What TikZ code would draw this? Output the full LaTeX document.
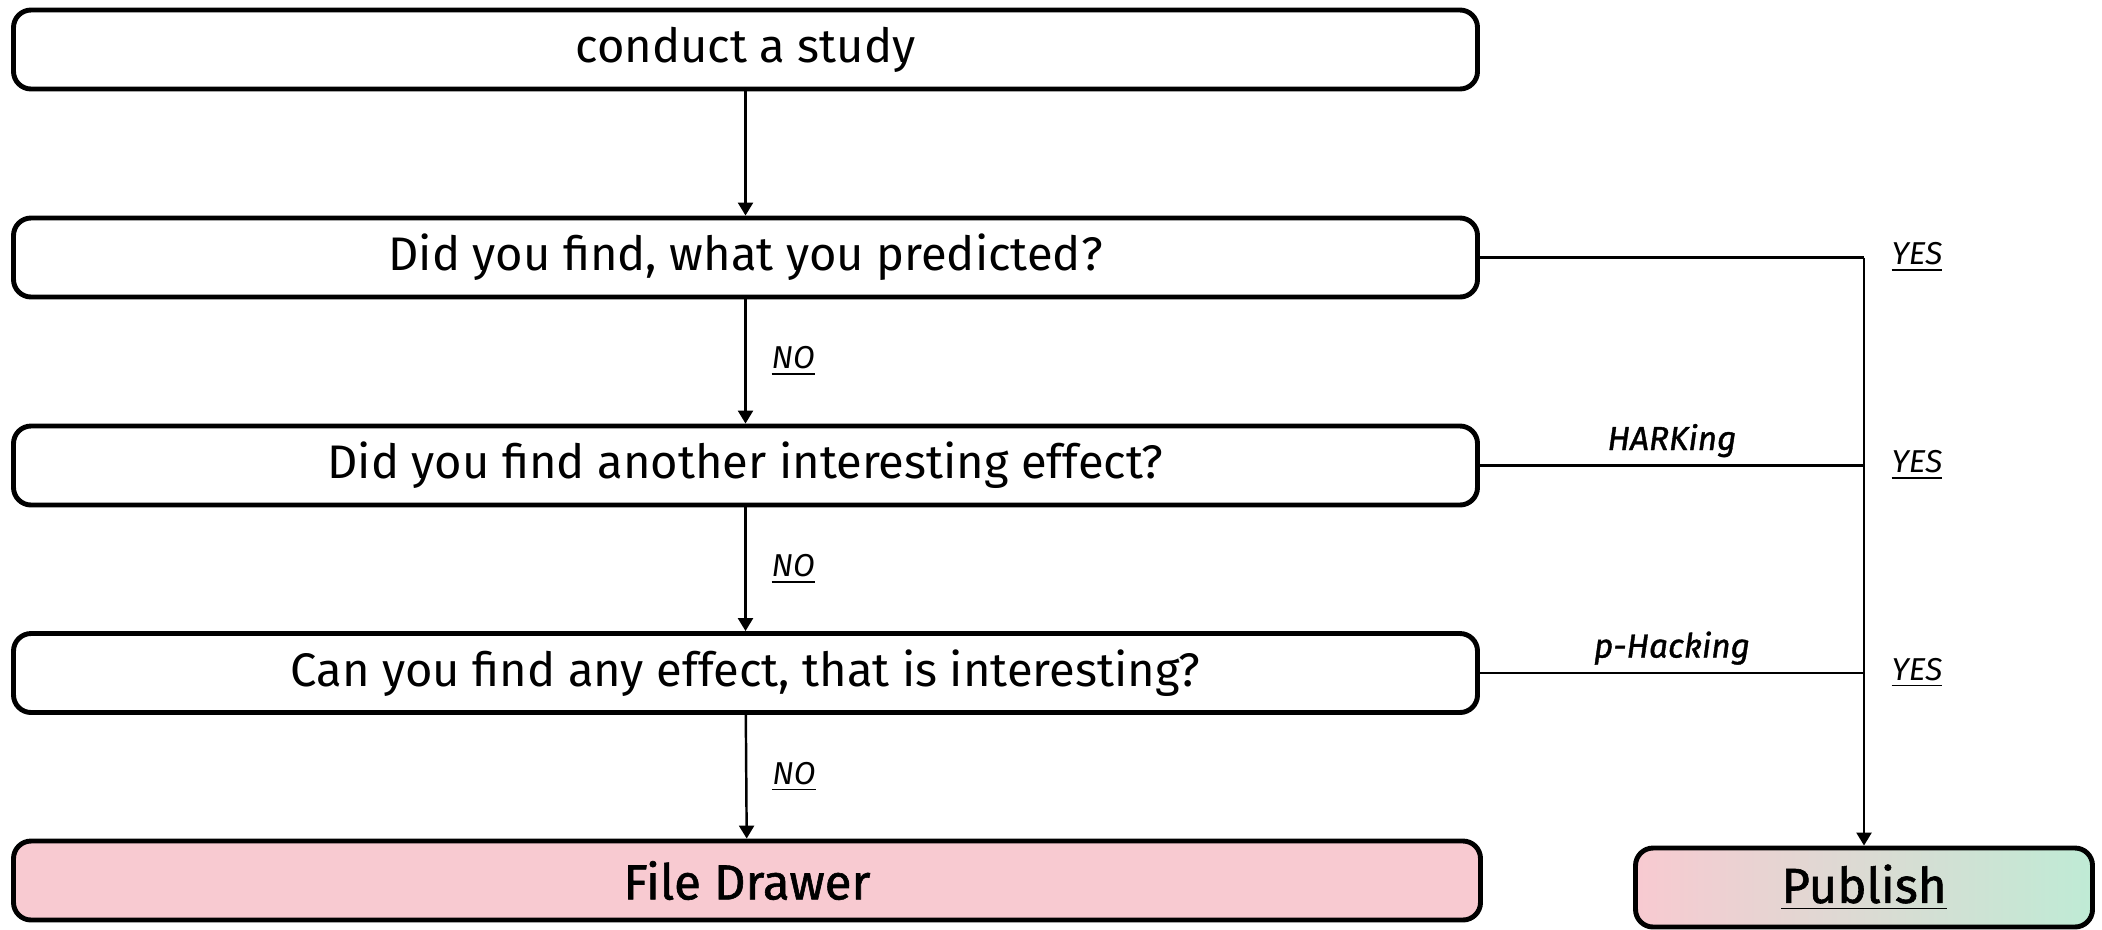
\documentclass[tikz,border=0pt]{standalone}
\usepackage{fontspec}
\setmainfont{Fira Sans}
\newfontfamily\medfont[FakeBold=1.2]{Fira Sans}
\usetikzlibrary{arrows.meta,positioning,calc}
\definecolor{drawerpink}{HTML}{F8CAD1}
\definecolor{publishgreen}{HTML}{BFEBD5}
\tikzset{
  qblk/.style={draw,rectangle,rounded corners=5pt,line width=1.4pt,minimum width=14.64cm,minimum height=0.79cm,align=center,inner sep=0pt,font=\fontsize{13.4}{16}\selectfont},
  endblk/.style={qblk,fill=drawerpink,font=\fontsize{14}{17}\selectfont\medfont},
  pubblk/.style={qblk,minimum width=4.57cm,left color=drawerpink,right color=publishgreen,font=\fontsize{14}{17}\selectfont\medfont},
  arr/.style={-{Triangle[width=0.15cm,length=0.13cm]},line width=0.7pt},
  ln/.style={line width=0.7pt},
  ans/.style={font=\fontsize{9}{11}\selectfont\itshape,inner sep=0pt},
  hack/.style={font=\fontsize{9.5}{11}\selectfont\medfont\itshape,inner sep=2pt}
}

\begin{document}
\begin{tikzpicture}
  \useasboundingbox (0,0) rectangle (21.02,-9.29);
  % Question boxes
  \node[qblk] (study) at (7.455,-0.495) {conduct a study};
  \node[qblk] (pred) at (7.455,-2.575) {Did you find, what you predicted?};
  \node[qblk] (other) at (7.455,-4.655) {Did you find another interesting effect?};
  \node[qblk] (any) at (7.455,-6.73) {Can you find any effect, that is interesting?};

  % Outcomes
  \node[endblk, minimum width=14.67cm] (drawer) at (7.47,-8.805) {File Drawer};
  \node[pubblk] (publish) at (18.64,-8.875) {\underline{Publish}};

  % NO branch
  \draw[arr] (study) -- (pred);
  \draw[arr] (pred) -- node[ans, right=0.25cm] (no1) {\underline{NO}} (other);
  \draw[arr] (other) -- node[ans, right=0.25cm] (no2) {\underline{NO}} (any);
  \draw[arr] (any) -- node[ans, right=0.25cm] (no3) {\underline{NO}} (drawer);

  % YES branch
  \coordinate (j2) at (publish.north |- pred.east);
  \coordinate (j3) at (publish.north |- other.east);
  \coordinate (j4) at (publish.north |- any.east);
  \draw[ln] (pred.east) -- (j2);
  \draw[arr] (j2) -- (publish.north);
  \draw[ln] (other.east) -- node[hack, above] (hark) {HARKing} (j3);
  \draw[ln] (any.east) -- node[hack, above] (phack) {p-Hacking} (j4);
  \foreach \j in {j2,j3,j4}
    \node[ans, right=0.27cm of \j] (yes\j) {\underline{YES}};

\end{tikzpicture}
\end{document}
